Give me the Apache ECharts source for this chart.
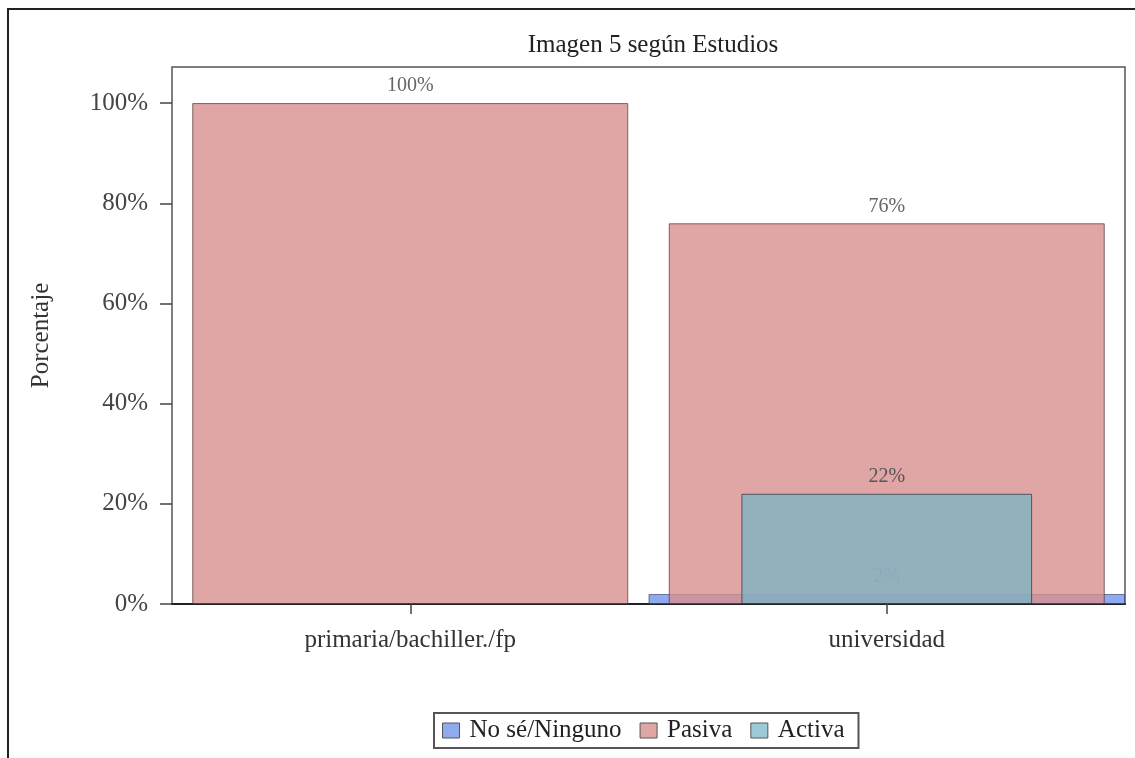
<!DOCTYPE html>
<html>
<head>
<meta charset="utf-8">
<script src="https://cdn.jsdelivr.net/npm/echarts@6/dist/echarts.min.js"></script>
<style>
html,body{margin:0;padding:0;background:#fff;}
#chart{width:1135px;height:758px;}
</style>
</head>
<body>
<div id="chart"></div>
<script>
var categories = ['primaria/bachiller./fp', 'universidad'];
var noSeValues = ['-', 2];
var pasivaValues = [100, 76];
var activaValues = ['-', 22];
var yTicks = [0, 20, 40, 60, 80, 100];

var FONT = '"Liberation Serif", "DejaVu Serif", serif';
var chart = echarts.init(document.getElementById('chart'));

function hiddenX() {
  return {
    type: 'category', data: categories, gridIndex: 0, show: false,
    axisLine: {show: false}, axisTick: {show: false}, axisLabel: {show: false}
  };
}

chart.setOption({
  animation: false,
  backgroundColor: '#ffffff',
  title: {
    text: 'Imagen 5 según Estudios',
    left: 648, top: 28, textAlign: 'center',
    textStyle: {fontFamily: FONT, fontSize: 25, fontWeight: 'normal', color: '#222'}
  },
  graphic: [{
    type: 'polyline',
    shape: {points: [[8, 758], [8, 9], [1135, 9]]},
    style: {stroke: '#222', lineWidth: 2, fill: null},
    silent: true
  }],
  legend: {
    bottom: 10, left: 434,
    data: ['No sé/Ninguno', 'Pasiva', 'Activa'],
    icon: 'rect', itemWidth: 17, itemHeight: 15, itemGap: 18,
    borderColor: '#555', borderWidth: 2, padding: [5, 14, 5, 8],
    textStyle: {fontFamily: FONT, fontSize: 25, color: '#222', padding: [0, 0, 0, 5]},
    itemStyle: {borderColor: '#555', borderWidth: 1}
  },
  grid: {
    left: 172, right: 10, top: 67, bottom: 154,
    show: true, borderColor: '#555', borderWidth: 1.5, backgroundColor: '#fff'
  },
  xAxis: [{
    type: 'category', data: categories, gridIndex: 0,
    axisLine: {show: true, lineStyle: {color: '#222', width: 2}},
    axisTick: {show: true, alignWithLabel: true, length: 10, lineStyle: {color: '#444', width: 1.5}},
    axisLabel: {fontFamily: FONT, fontSize: 25, color: '#333', margin: 24}
  }, hiddenX(), hiddenX()],
  yAxis: {
    type: 'value', min: 0, max: 107.2, interval: 20,
    name: 'Porcentaje', nameLocation: 'middle', nameGap: 118, nameRotate: 90,
    nameTextStyle: {fontFamily: FONT, fontSize: 25, color: '#333'},
    axisLine: {show: false},
    axisTick: {show: true, length: 12, customValues: yTicks, lineStyle: {color: '#444', width: 1.5}},
    splitLine: {show: false},
    axisLabel: {
      fontFamily: FONT, fontSize: 25, color: '#444', margin: 24,
      customValues: yTicks,
      formatter: function (v) { return v + '%'; }
    }
  },
  series: [{
    name: 'No sé/Ninguno', type: 'bar', xAxisIndex: 1,
    data: noSeValues, barWidth: '100%',
    itemStyle: {color: 'rgb(143,170,240)', borderColor: 'rgba(40,50,90,0.6)', borderWidth: 1},
    label: {show: true, position: 'top', distance: 7, formatter: '{c}%',
      fontFamily: FONT, fontSize: 20, color: '#8497a6'},
    z: 2
  }, {
    name: 'Pasiva', type: 'bar', xAxisIndex: 0,
    data: pasivaValues, barWidth: '91.5%',
    itemStyle: {color: 'rgba(216,142,142,0.8)', borderColor: 'rgba(80,50,50,0.7)', borderWidth: 1},
    label: {show: true, position: 'top', distance: 7, formatter: '{c}%',
      fontFamily: FONT, fontSize: 20, color: '#666'},
    z: 3
  }, {
    name: 'Activa', type: 'bar', xAxisIndex: 2,
    data: activaValues, barWidth: '61%',
    itemStyle: {color: 'rgba(114,181,199,0.7)', borderColor: 'rgba(40,50,60,0.7)', borderWidth: 1},
    label: {show: true, position: 'top', distance: 7, formatter: '{c}%',
      fontFamily: FONT, fontSize: 20, color: '#555'},
    z: 4
  }]
});
</script>
</body>
</html>
